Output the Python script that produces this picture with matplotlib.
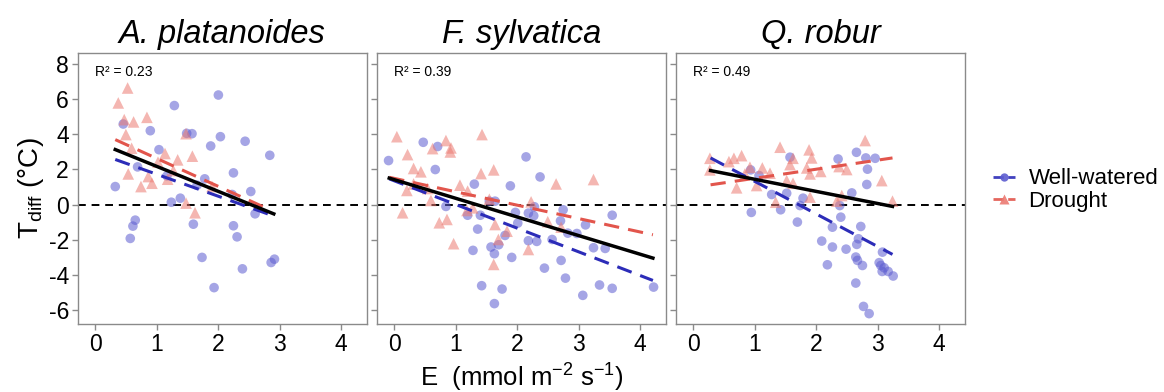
import matplotlib.pyplot as plt
import numpy as np
from matplotlib.lines import Line2D

plt.rcParams['font.family'] = ['Liberation Sans', 'DejaVu Sans']
plt.rcParams['mathtext.fontset'] = 'custom'
plt.rcParams['mathtext.rm'] = 'Liberation Sans'
plt.rcParams['axes.unicode_minus'] = False

species = ['A. platanoides', 'F. sylvatica', 'Q. robur']
r2_labels = ['R² = 0.23', 'R² = 0.39', 'R² = 0.49']

# well-watered (E, Tdiff)
ww_E = [
    [0.456, 1.287, 2.003, 0.896, 1.574, 2.036, 2.438, 1.878, 1.037, 2.839, 0.689, 2.248, 1.167,
     1.781, 1.656, 0.326, 2.530, 2.226, 1.384, 1.238, 2.600, 0.651, 0.613, 2.248, 1.596, 0.570,
     2.307, 1.737, 2.915, 2.861, 2.394, 1.933, 1.487],
    [-0.092, 0.472, 0.706, 0.668, 2.144, 2.372, 1.889, 1.303, 1.547, 1.640, 0.841, 1.194, 1.401,
     1.357, 1.971, 2.182, 2.269, 2.280, 2.747, 2.704, 2.009, 2.823, 2.970, 3.111, 3.545, 1.802,
     2.568, 2.182, 2.318, 1.574, 1.699, 1.281, 1.629, 1.911, 2.714, 3.241, 3.431, 2.443, 2.785,
     1.422, 1.754, 1.629, 3.067, 3.339, 3.545, 4.218],
    [1.574, 2.356, 2.655, 2.807, 2.959, 2.834, 2.823, 0.934, 1.070, 1.276, 1.520, 1.786, 1.737,
     1.422, 0.945, 1.694, 2.579, 2.383, 2.400, 2.264, 2.725, 2.090, 2.264, 2.486, 2.687, 2.660,
     3.078, 2.182, 2.644, 2.671, 2.752, 3.024, 3.051, 3.105, 3.073, 3.170, 3.252, 2.644, 2.769,
     2.861],
]
ww_T = [
    [4.58, 5.63, 6.23, 4.20, 4.03, 3.86, 3.60, 3.33, 3.12, 2.80, 2.14, 1.80, 1.63,
     1.46, 1.10, 1.02, 0.74, 0.57, 0.36, 0.13, -0.53, -0.89, -1.23, -1.21, -1.12, -1.93,
     -1.84, -3.01, -3.11, -3.30, -3.66, -4.73, 4.05],
    [2.50, 3.54, 3.30, 1.99, 2.71, 1.57, 1.06, 1.16, 0.19, 0.19, -0.11, -0.61, -0.61,
     -1.40, -0.45, -0.49, -0.64, -0.13, -0.30, -0.93, -1.06, -1.63, -1.65, -1.16, -0.61, -1.76,
     -1.99, -2.06, -2.10, -2.42, -2.29, -2.61, -2.80, -3.01, -3.18, -2.46, -2.50, -3.62, -4.19,
     -4.62, -4.81, -5.64, -5.17, -4.58, -4.77, -4.70],
    [2.69, 2.59, 2.97, 2.65, 2.63, 2.01, 1.14, 1.97, 1.65, 0.57, 0.64, 0.36, -0.06,
     -0.30, -0.45, -1.00, 0.66, -0.06, -0.72, -1.29, -1.25, -2.08, -2.42, -2.54, -1.95, -2.27,
     -2.71, -3.43, -2.99, -3.18, -3.47, -3.31, -3.47, -3.60, -3.81, -3.81, -4.07, -4.47, -5.80,
     -6.21],
]

# drought (E, Tdiff)
dr_E = [
    [0.527, 0.375, 0.472, 0.624, 0.841, 0.499, 1.477, 0.592, 1.135, 1.341, 1.580, 0.537, 1.021,
     0.863, 0.923, 0.744, 1.178, 1.477, 1.623, 1.900, 1.270],
    [0.043, 0.217, 0.315, 0.434, 0.624, 0.841, 0.923, 0.912, 1.428, 1.412, 1.618, 0.206, 0.136,
     0.315, 0.543, 0.597, 0.733, 0.858, 0.966, 1.069, 1.194, 1.184, 1.276, 1.547, 1.640, 1.694,
     1.618, 1.835, 2.182, 2.226, 2.497, 2.633, 2.714, 3.241],
    [0.271, 0.271, 0.581, 0.662, 0.787, 0.923, 1.124, 1.249, 1.031, 0.706, 1.412, 1.574, 1.623,
     1.520, 1.623, 1.884, 1.927, 1.846, 1.900, 2.074, 2.372, 2.497, 2.796, 3.067, 1.900, 1.341,
     2.334, 2.416, 3.241, 0.841],
]
dr_T = [
    [6.63, 5.78, 4.83, 4.70, 4.96, 3.98, 4.03, 3.20, 2.90, 2.54, 2.75, 1.74, 2.41,
     1.59, 1.21, 1.02, 1.44, 0.08, -0.47, 1.02, 1.93],
    [3.86, 2.84, 2.05, 1.86, 3.18, 3.64, 3.22, 2.99, 3.98, 1.76, 1.97, 0.80, -0.47,
     1.17, 0.91, 0.23, -1.04, -0.85, -2.23, 1.10, 0.76, -0.34, -0.19, 0.30, -1.14, -1.99,
     -3.41, -1.52, -2.56, 0.15, -0.98, 1.17, -1.29, 1.42],
    [2.63, 1.97, 2.44, 2.63, 2.78, 2.12, 2.08, 1.78, 1.08, 0.95, 3.26, 2.27, 2.63,
     1.36, 1.21, 3.11, 2.65, 2.08, 1.74, 1.88, 2.16, 1.99, 3.64, 1.36, 0.42, 0.13,
     0.19, 0.51, 0.19, 1.74],
]

# fitted lines: intercept, slope, x-range  (all / well-watered / drought)
fit_all = [(3.59, -1.42, 0.326, 2.904), (1.414, -1.061, -0.081, 4.207), (2.124, -0.689, 0.282, 3.241)]
fit_ww = [(2.97, -1.249, 0.326, 2.904), (1.35, -1.348, -0.081, 4.207), (3.173, -1.855, 0.282, 3.241)]
fit_dr = [(4.21, -1.588, 0.326, 2.807), (1.488, -0.763, -0.081, 4.207), (0.974, 0.517, 0.282, 3.241)]

blue_pt = '#5c5cd0'
red_pt = '#ec7a72'
blue_ln = '#2c2cb8'
red_ln = '#e2554c'
frame = '#8a8a8a'

fig = plt.figure(figsize=(11.64, 3.92), dpi=100)
lefts = [78, 377, 676]
axes = []
for i in range(3):
    ax = fig.add_axes([lefts[i] / 1164, 1 - 324 / 392, 289 / 1164, 271.5 / 392])
    axes.append(ax)
    ax.axhline(0, color='black', ls=(0, (4, 3)), lw=1.4, zorder=1)
    ax.scatter(ww_E[i], ww_T[i], s=48, marker='o', color=blue_pt, alpha=0.55,
               edgecolors='none', zorder=2)
    ax.scatter(dr_E[i], dr_T[i], s=70, marker='^', color=red_pt, alpha=0.55,
               edgecolors='none', zorder=2)
    for fit, col in [(fit_ww[i], blue_ln), (fit_dr[i], red_ln)]:
        b0, b1, x0, x1 = fit
        xs = np.array([x0, x1])
        ax.plot(xs, b0 + b1 * xs, color=col, ls=(0, (5, 3)), lw=2.2, zorder=3)
    b0, b1, x0, x1 = fit_all[i]
    xs = np.array([x0, x1])
    ax.plot(xs, b0 + b1 * xs, color='black', lw=2.5, zorder=4)

    ax.set_xlim(-0.28, 4.42)
    ax.set_ylim(-6.8, 8.65)
    ax.set_xticks([0, 1, 2, 3, 4])
    ax.set_yticks([-6, -4, -2, 0, 2, 4, 6, 8])
    ax.tick_params(colors=frame, labelcolor='black', labelsize=16.5, length=4, width=1, pad=2.5)
    for sp in ax.spines.values():
        sp.set_color(frame)
        sp.set_linewidth(1)
    if i > 0:
        ax.set_yticklabels([])
    ax.set_title(species[i], fontsize=23.5, style='italic', pad=7)
    ax.text(0.06, 0.93, r2_labels[i], transform=ax.transAxes, fontsize=10,
            ha='left', va='center')

axes[0].set_ylabel(r'T$_{\mathrm{diff}}$ (°C)', fontsize=20, labelpad=2)
fig.text(522 / 1164, 1 - 377 / 392, r'E  (mmol m$^{-2}$ s$^{-1}$)', fontsize=18.5,
         ha='center', va='center')

handles = [
    Line2D([], [], color=blue_ln, ls='--', lw=2, marker='o', markersize=6,
           markerfacecolor=blue_pt, markeredgecolor='none', alpha=0.9),
    Line2D([], [], color=red_ln, ls='--', lw=2, marker='^', markersize=7,
           markerfacecolor=red_pt, markeredgecolor='none', alpha=0.9),
]
fig.legend(handles, ['Well-watered', 'Drought'], loc='center left',
           bbox_to_anchor=(993 / 1164, 1 - 190 / 392), frameon=False, fontsize=16,
           handlelength=1.0, handletextpad=0.6, labelspacing=0.05,
           borderpad=0, borderaxespad=0)

fig.savefig('out.png', dpi=100)
